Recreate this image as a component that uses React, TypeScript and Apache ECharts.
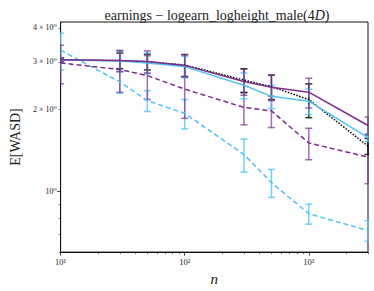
import React, { useEffect, useRef } from "react";
import * as echarts from "echarts";

const xs = [10, 30, 50, 100, 300, 500, 1000, 3000];

const purpleSolid = [3.05, 3.03, 3.01, 2.91, 2.54, 2.42, 2.32, 1.75];
const purpleSolidErr = [0.05, 0.27, 0.28, 0.27, 0.28, 0.26, 0.29, 0.13];
const cyanSolid = [3.05, 3.02, 2.97, 2.88, 2.46, 2.24, 2.15, 1.58];
const cyanSolidErr = [0.05, 0.26, 0.26, 0.26, 0.27, 0.22, 0.23, 0.05];
const blackDotted = [3.05, 3.03, 3.0, 2.92, 2.57, 2.43, 2.18, 1.47];
const blackDottedErr = [0.05, 0.2, 0.2, 0.27, 0.26, 0.25, 0.31, 0.1];
const purpleDashed = [2.97, 2.81, 2.67, 2.38, 2.04, 1.98, 1.51, 1.34];
const purpleDashedErr = [0.48, 0.49, 0.49, 0.52, 0.28, 0.26, 0.2, 0.27];
const cyanDashed = [3.31, 2.53, 2.16, 1.94, 1.37, 1.08, 0.83, 0.72];
const cyanDashedErr = [0.51, 0.23, 0.19, 0.24, 0.19, 0.127, 0.07, 0.062];

const xMajorTicks = [10, 100, 1000];
const xMinorTicks = [20, 30, 40, 50, 60, 70, 80, 90, 200, 300, 400, 500, 600, 700, 800, 900, 2000, 3000];
const yMajorTicks = [1];
const yMinorTicks = [0.6, 0.7, 0.8, 0.9, 2, 3, 4];
const yLabelValues = [1, 2, 3, 4];
const xLabelText: Record<number, string> = { 10: "10¹", 100: "10²", 1000: "10³" };
const yLabelText: Record<number, string> = { 1: "10⁰", 2: "2 × 10⁰", 3: "3 × 10⁰", 4: "4 × 10⁰" };

const PURPLE = "#7b2d8e";
const CYAN = "#4fc3f7";
const BLACK = "#000000";
const SERIF = "'Liberation Serif', 'DejaVu Serif', serif";

function errData(vals: number[], errs: number[]) {
  return xs.map((x, i) => [x, vals[i] - errs[i], vals[i] + errs[i]]);
}

function errSeries(vals: number[], errs: number[], color: string, opacity: number) {
  return {
    type: "custom",
    xAxisIndex: 0,
    yAxisIndex: 0,
    clip: true,
    silent: true,
    z: 1,
    data: errData(vals, errs),
    encode: { x: 0, y: [1, 2] },
    renderItem: (params: any, api: any) => {
      const x = api.value(0);
      const lo = api.value(1);
      const hi = api.value(2);
      const a = api.coord([x, hi]);
      const b = api.coord([x, lo]);
      const w = 3.5;
      const style = { stroke: color, lineWidth: 1.5, opacity };
      return {
        type: "group",
        children: [
          { type: "line", shape: { x1: a[0], y1: a[1], x2: b[0], y2: b[1] }, style },
          { type: "line", shape: { x1: a[0] - w, y1: a[1], x2: a[0] + w, y2: a[1] }, style },
          { type: "line", shape: { x1: b[0] - w, y1: b[1], x2: b[0] + w, y2: b[1] }, style },
        ],
      };
    },
  };
}

function lineSeries(vals: number[], color: string, type: any, width = 1.5) {
  return {
    type: "line",
    xAxisIndex: 0,
    yAxisIndex: 0,
    data: xs.map((x, i) => [x, vals[i]]),
    showSymbol: false,
    symbol: "none",
    z: 3,
    lineStyle: { color, width, type },
  };
}

export default function App() {
  const ref = useRef<HTMLDivElement>(null);
  useEffect(() => {
    if (!ref.current) return;
    const chart = echarts.init(ref.current, null, { renderer: "svg" });
    const gridPos = { left: 56, right: 6, top: 22, bottom: 38 };
    const baseX = {
      type: "log",
      logBase: 10,
      min: 10,
      max: 3000,
      splitLine: { show: false },
      gridIndex: 0,
    };
    const baseY = {
      type: "log",
      logBase: 10,
      min: 0.6,
      max: 4.2,
      splitLine: { show: false },
      gridIndex: 0,
    };
    chart.setOption({
      animation: false,
      title: {
        text: "{a|earnings − logearn_logheight_male(4}{b|D}{a|)}",
        left: 212,
        top: 3,
        textAlign: "center",
        textStyle: {
          fontWeight: "normal",
          rich: {
            a: { fontFamily: SERIF, fontSize: 14, fontWeight: "normal", color: "#222" },
            b: { fontFamily: SERIF, fontSize: 14, fontWeight: "normal", fontStyle: "italic", color: "#222" },
          },
        },
      },
      grid: { ...gridPos, show: true, borderColor: "#111", borderWidth: 1, backgroundColor: "transparent" },
      xAxis: [
        {
          ...baseX,
          position: "bottom",
          name: "n",
          nameLocation: "middle",
          nameGap: 7,
          nameTextStyle: { fontFamily: SERIF, fontSize: 15, fontStyle: "italic", color: "#222" },
          axisLine: { show: true, lineStyle: { color: "#111", width: 1 } },
          axisTick: { show: true, length: 3.5, customValues: xMajorTicks, lineStyle: { color: "#111", width: 0.8 } },
          axisLabel: {
            show: true,
            customValues: xMajorTicks,
            margin: 5,
            fontFamily: SERIF,
            fontSize: 8.5,
            color: "#222",
            formatter: (v: number) => xLabelText[Math.round(v)] ?? "",
          },
        },
        {
          ...baseX,
          position: "bottom",
          axisLine: { show: false },
          axisTick: { show: true, length: 2, customValues: xMinorTicks, lineStyle: { color: "#111", width: 0.6 } },
          axisLabel: { show: false },
        },
      ],
      yAxis: [
        {
          ...baseY,
          position: "left",
          name: "E[WASD]",
          nameLocation: "middle",
          nameGap: 38,
          nameTextStyle: { fontFamily: SERIF, fontSize: 14, color: "#222" },
          axisLine: { show: true, lineStyle: { color: "#111", width: 1 } },
          axisTick: { show: true, length: 3.5, customValues: yMajorTicks, lineStyle: { color: "#111", width: 0.8 } },
          axisLabel: {
            show: true,
            customValues: yLabelValues,
            margin: 4,
            fontFamily: SERIF,
            fontSize: 8,
            color: "#222",
            formatter: (v: number) => yLabelText[Math.round(v)] ?? "",
          },
        },
        {
          ...baseY,
          position: "left",
          axisLine: { show: false },
          axisTick: { show: true, length: 2, customValues: yMinorTicks, lineStyle: { color: "#111", width: 0.6 } },
          axisLabel: { show: false },
        },
      ],
      series: [
        errSeries(cyanDashed, cyanDashedErr, CYAN, 0.8),
        errSeries(purpleDashed, purpleDashedErr, PURPLE, 0.7),
        errSeries(blackDotted, blackDottedErr, BLACK, 0.8),
        errSeries(cyanSolid, cyanSolidErr, CYAN, 0.8),
        errSeries(purpleSolid, purpleSolidErr, PURPLE, 0.7),
        lineSeries(cyanDashed, CYAN, [5, 3]),
        lineSeries(purpleDashed, PURPLE, [5, 3]),
        lineSeries(blackDotted, BLACK, [1.5, 1.5]),
        lineSeries(cyanSolid, CYAN, "solid"),
        lineSeries(purpleSolid, PURPLE, "solid"),
      ],
    });
    return () => chart.dispose();
  }, []);
  return <div ref={ref} style={{ position: "absolute", left: 0, top: 0, width: 374, height: 291 }} />;
}
